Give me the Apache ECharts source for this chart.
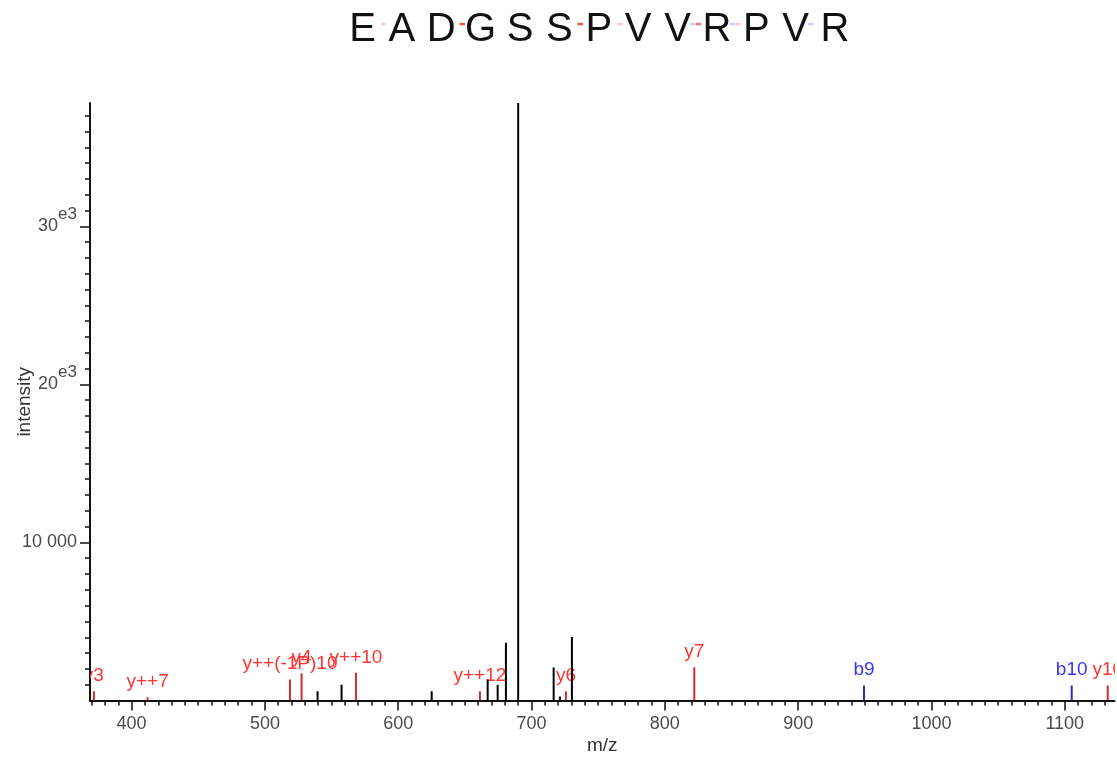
<!DOCTYPE html>
<html><head><meta charset="utf-8">
<script src="https://cdn.jsdelivr.net/npm/echarts@6/dist/echarts.min.js"></script>
<style>html,body{margin:0;padding:0;background:#fff}#c{width:1117px;height:759px}</style>
</head><body><div id="c"></div>
<script>
// ---- data ----
const sequence = ['E','A','D','G','S','S','P','V','V','R','P','V','R'];
const yCutGap = [0, 2, 5, 6, 8, 9];
const yCutColor = ['#f5cfcf', '#e05a5a', '#e05a5a', '#f5cfcf', '#e47a7a', '#f5cfcf'];
const bCutGap = [8, 9, 11];
const bCutColor = ['#cacaf4', '#cacaf4', '#cacaf4'];

const mz        = [371.7, 412.0, 518.8, 527.5, 539.5, 557.5, 568.3, 625.1, 661.3, 667.1, 674.6, 680.8, 690.0, 716.6, 721.3, 725.8, 730.3, 822.1, 949.4, 1105.2, 1132.2];
const intensity = [590,   210,   1330,  1730,  590,   990,   1750,  590,   590,   1330,  990,   3650,  37800, 2090,  250,   590,   4010,  2110,  950,   950,    950];
const ionLabel  = ['y3', 'y++7', 'y++(-1P)10', 'y4', '', '', 'y++10', '', 'y++12', '', '', '', '', '', '', 'y6', '', 'y7', 'b9', 'b10', 'y10'];
const ionType   = ['y', 'y', 'y', 'y', '', '', 'y', '', 'y', '', '', '', '', '', '', 'y', '', 'y', 'b', 'b', 'y'];

const xTicks = [400, 500, 600, 700, 800, 900, 1000, 1100];
const yTicks = [10000, 20000, 30000];

// ---- styles ----
const FONT = '"Liberation Sans", Arial, Helvetica, sans-serif';
const lineColor  = { y: '#d42c2c', b: '#2a2ad2', '': '#000000' };
const labelColor = { y: '#ff3434', b: '#3636ff', '': '#000000' };
const axisColor = '#111';
const tickLabelColor = '#4a4a4a';

// title (peptide sequence with fragment markers)
const letterX0 = 362.5, letterStep = 39.38;
const titleEls = [];
sequence.forEach((ch, i) => {
  titleEls.push({
    type: 'text', x: letterX0 + i * letterStep, y: 29.5,
    style: { text: ch, font: '40px ' + FONT, fill: '#111', align: 'center', verticalAlign: 'middle' }
  });
});
yCutGap.forEach((g, k) => {
  titleEls.push({ type: 'rect', shape: { x: letterX0 + (g + 0.5) * letterStep - 1.5, y: 22.8, width: 5.5, height: 2.5 }, style: { fill: yCutColor[k] } });
});
bCutGap.forEach((g, k) => {
  titleEls.push({ type: 'rect', shape: { x: letterX0 + (g + 0.5) * letterStep - 7, y: 22.8, width: 5, height: 2.5 }, style: { fill: bCutColor[k] } });
});

const chart = echarts.init(document.getElementById('c'), null, { renderer: 'canvas' });
chart.setOption({
  animation: false,
  backgroundColor: '#fff',
  grid: { left: 90, right: 2.5, top: 103, bottom: 58.5, containLabel: false, outerBoundsMode: 'none' },
  graphic: { elements: titleEls },
  xAxis: {
    type: 'value', min: 368.8, max: 1137.3,
    splitNumber: 8, minInterval: 100, maxInterval: 100,
    name: 'm/z', nameLocation: 'middle', nameGap: 36, nameMoveOverlap: false,
    nameTextStyle: { fontSize: 19, color: '#333', fontFamily: FONT },
    axisLine: { show: true, onZero: false, lineStyle: { color: axisColor, width: 2 } },
    axisTick: { show: true, length: 10, customValues: xTicks, lineStyle: { color: axisColor, width: 1.5 } },
    minorTick: { show: true, splitNumber: 10, length: 5, lineStyle: { color: axisColor, width: 1.5 } },
    splitLine: { show: false },
    axisLabel: { customValues: xTicks, fontSize: 18, color: tickLabelColor, fontFamily: FONT, margin: 15, formatter: v => String(v) }
  },
  yAxis: {
    type: 'value', min: 0, max: 37800, interval: 10000,
    name: 'intensity', nameLocation: 'middle', nameGap: 56, nameMoveOverlap: false,
    nameTextStyle: { fontSize: 19, color: '#333', fontFamily: FONT },
    axisLine: { show: true, onZero: false, lineStyle: { color: axisColor, width: 2 } },
    axisTick: { show: true, length: 10, customValues: yTicks, lineStyle: { color: axisColor, width: 1.5 } },
    minorTick: { show: true, splitNumber: 10, length: 5, lineStyle: { color: axisColor, width: 1.5 } },
    splitLine: { show: false },
    axisLabel: {
      customValues: yTicks, margin: 13,
      formatter: v => v === 10000 ? '{n|10 000}' : '{n|' + (v / 1000) + '}{s|e3}',
      rich: {
        n: { fontSize: 18, color: tickLabelColor, fontFamily: FONT },
        s: { fontSize: 17, color: tickLabelColor, fontFamily: FONT, padding: [0, 0, 24, 0] }
      }
    }
  },
  series: [{
    type: 'custom',
    clip: true,
    data: mz.map((m, i) => [m, intensity[i]]),
    renderItem: (params, api) => {
      const i = params.dataIndex;
      const t = ionType[i];
      const base = api.coord([api.value(0), 0]);
      const top = api.coord([api.value(0), api.value(1)]);
      const children = [{
        type: 'line',
        shape: { x1: base[0], y1: base[1], x2: top[0], y2: top[1] },
        style: { stroke: lineColor[t], lineWidth: 2 }
      }];
      if (ionLabel[i]) {
        children.push({
          type: 'text', x: top[0], y: top[1] - 15.5,
          style: { text: ionLabel[i], fill: labelColor[t], font: '19px ' + FONT, align: 'center', verticalAlign: 'middle' }
        });
      }
      return { type: 'group', children };
    }
  }]
});
</script>
</body></html>
